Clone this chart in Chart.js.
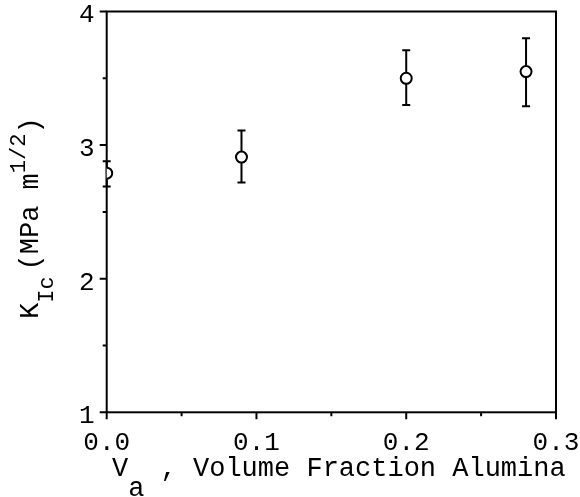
<!DOCTYPE html>
<html><head><meta charset="utf-8">
<script src="https://cdn.jsdelivr.net/npm/chart.js@4/dist/chart.umd.min.js"></script>
<style>html,body{margin:0;padding:0;background:#fff;} canvas{display:block;}</style>
</head><body>
<canvas id="c" width="580" height="497"></canvas>
<script>
// ---- data ----
const volumeFraction = [0.0, 0.09, 0.20, 0.28];
const toughness      = [2.79, 2.91, 3.50, 3.55];
const toughnessHigh  = [2.88, 3.11, 3.71, 3.80];
const toughnessLow   = [2.69, 2.72, 3.30, 3.29];
const xMajorTicks = [0.0, 0.1, 0.2, 0.3];
const xMinorTicks = [0.05, 0.15, 0.25];
const yMajorTicks = [1, 2, 3, 4];
const yMinorTicks = [1.5, 2.5, 3.5];
// title pieces: [text, 0 = normal, 1 = subscript, -1 = superscript]
const xTitleParts = [['V', 0], ['a', 1], [' , Volume Fraction Alumina', 0]];
const yTitleParts = [['K', 0], ['Ic', 1], ['(MPa m', 0], ['1/2', -1], [')', 0]];

const FONT = '"Liberation Mono", "Courier New", monospace';

// layout/style of the title pieces
function drawParts(ctx, parts, size, smallSize, subShift, supShift, gaps) {
  let u = 0;
  ctx.textBaseline = 'alphabetic';
  ctx.textAlign = 'left';
  parts.forEach(([t, s], i) => {
    u += (gaps && gaps[i]) || 0;
    ctx.font = (s === 0 ? size : smallSize) + 'px ' + FONT;
    const dv = s === 1 ? subShift : (s === -1 ? supShift : 0);
    ctx.fillText(t, u, dv);
    u += ctx.measureText(t).width;
  });
}

const decor = {
  id: 'decor',
  beforeDatasetsDraw(chart) {
    const {ctx, chartArea: a, scales: {x, y}} = chart;
    ctx.save();
    ctx.strokeStyle = '#000';
    ctx.lineWidth = 2;
    ctx.strokeRect(a.left, a.top, a.right - a.left, a.bottom - a.top);
    // tick marks (outward)
    ctx.beginPath();
    for (const v of xMajorTicks) { const p = x.getPixelForValue(v); ctx.moveTo(p, a.bottom); ctx.lineTo(p, a.bottom + 7); }
    for (const v of xMinorTicks) { const p = x.getPixelForValue(v); ctx.moveTo(p, a.bottom); ctx.lineTo(p, a.bottom + 4); }
    for (const v of yMajorTicks) { const p = y.getPixelForValue(v); ctx.moveTo(a.left, p); ctx.lineTo(a.left - 7, p); }
    for (const v of yMinorTicks) { const p = y.getPixelForValue(v); ctx.moveTo(a.left, p); ctx.lineTo(a.left - 4, p); }
    ctx.stroke();
    // error bars
    ctx.beginPath();
    for (let i = 0; i < volumeFraction.length; i++) {
      const px = x.getPixelForValue(volumeFraction[i]);
      const pt = y.getPixelForValue(toughnessHigh[i]);
      const pb = y.getPixelForValue(toughnessLow[i]);
      ctx.moveTo(px, pt); ctx.lineTo(px, pb);
      ctx.moveTo(px - 4, pt); ctx.lineTo(px + 4, pt);
      ctx.moveTo(px - 4, pb); ctx.lineTo(px + 4, pb);
    }
    ctx.stroke();
    ctx.restore();
  },
  afterDraw(chart) {
    const {ctx} = chart;
    ctx.save();
    ctx.fillStyle = '#000';
    // x title
    ctx.save();
    ctx.translate(112, 476);
    drawParts(ctx, xTitleParts, 27, 27, 20, 0, null);
    ctx.restore();
    // y title (rotated)
    ctx.save();
    ctx.translate(38, 319);
    ctx.rotate(-Math.PI / 2);
    drawParts(ctx, yTitleParts, 27, 22, 15, -13, [0, 0, 6, 0, 0]);
    ctx.restore();
    ctx.restore();
  }
};

new Chart(document.getElementById('c'), {
  type: 'scatter',
  data: {
    datasets: [{
      data: volumeFraction.map((v, i) => ({x: v, y: toughness[i]})),
      pointRadius: 5.5,
      pointBorderWidth: 2,
      pointBorderColor: '#000',
      pointBackgroundColor: '#fff',
      showLine: false
    }]
  },
  options: {
    responsive: false,
    animation: false,
    devicePixelRatio: 1,
    layout: {padding: {left: 0, right: 24, top: 11.5, bottom: 0}},
    plugins: {legend: {display: false}, tooltip: {enabled: false}},
    scales: {
      x: {
        type: 'linear', min: 0, max: 0.3,
        afterBuildTicks: s => { s.ticks = xMajorTicks.map(v => ({value: v})); },
        ticks: {callback: v => Number(v).toFixed(1), font: {family: FONT, size: 26}, color: '#000', padding: 8, maxRotation: 0, autoSkip: false},
        grid: {display: true, drawOnChartArea: false, drawTicks: true, tickLength: 7, color: 'rgba(0,0,0,0)'},
        border: {display: false},
        afterFit: s => { s.height = 84.7; s.paddingLeft = 0; s.paddingRight = 0; }
      },
      y: {
        type: 'linear', min: 1, max: 4,
        afterBuildTicks: s => { s.ticks = yMajorTicks.map(v => ({value: v})); },
        ticks: {callback: v => String(v), font: {family: FONT, size: 26}, color: '#000', padding: 5, labelOffset: 4, autoSkip: false},
        grid: {display: true, drawOnChartArea: false, drawTicks: true, tickLength: 7, color: 'rgba(0,0,0,0)'},
        border: {display: false},
        afterFit: s => { s.width = 106.7; s.paddingTop = 0; s.paddingBottom = 0; }
      }
    }
  },
  plugins: [decor]
});
</script>
</body></html>
